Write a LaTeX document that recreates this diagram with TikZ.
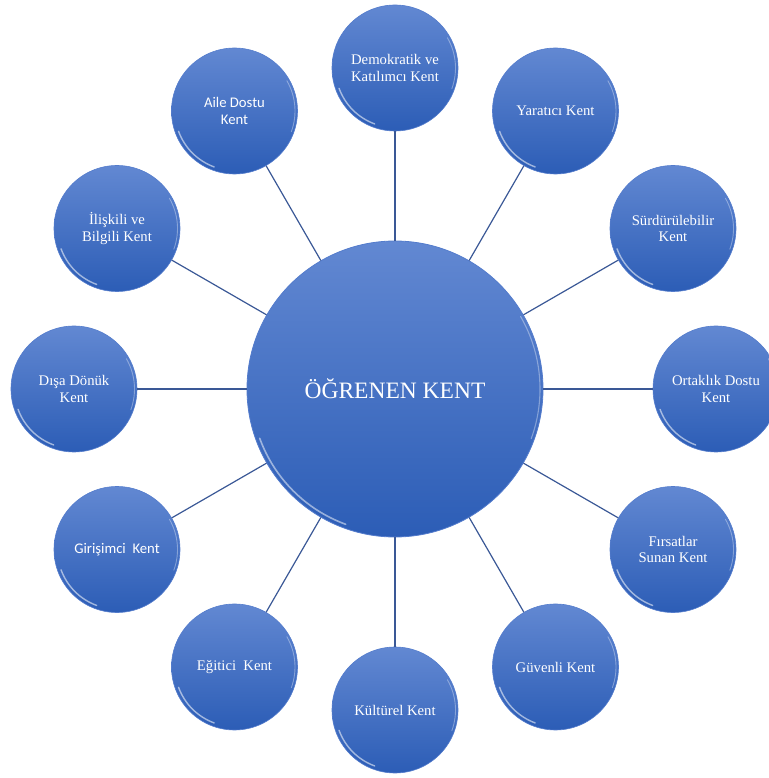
\documentclass[tikz,border=0pt]{standalone}
\usepackage{fontspec}
\setmainfont{Liberation Serif}
\newfontfamily\calibri{Carlito}
\usepackage{tikz}
\usetikzlibrary{positioning}
\definecolor{spheretop}{RGB}{98, 136, 210}
\definecolor{spherebot}{RGB}{44, 93, 182}
\definecolor{rimblue}{RGB}{84, 124, 204}
\definecolor{spokeblue}{RGB}{58, 88, 150}
\tikzstyle{leaf} = [circle, minimum size=126pt, inner sep=0pt, draw=rimblue, line width=0.6pt, top color=spheretop, bottom color=spherebot, text=white, align=center, font=\fontsize{14.7}{16.5}\selectfont, path picture={
    \draw[white, opacity=.55, line width=1.4pt, line cap=round] ([shift={(200:59.5pt)}]path picture bounding box.center) arc[start angle=200, end angle=250, radius=59.5pt];
    \draw[white, opacity=.35, line width=0.9pt, line cap=round] ([shift={(-20:60.5pt)}]path picture bounding box.center) arc[start angle=-20, end angle=30, radius=60.5pt];}]
\tikzstyle{hubcircle} = [circle, minimum size=296pt, inner sep=0pt, draw=rimblue, line width=0.8pt, top color=spheretop, bottom color=spherebot, text=white, font=\fontsize{23.5}{26}\selectfont, path picture={
    \draw[white, opacity=.5, line width=1.6pt, line cap=round] ([shift={(200:144pt)}]path picture bounding box.center) arc[start angle=200, end angle=250, radius=144pt];
    \draw[white, opacity=.35, line width=1.1pt, line cap=round] ([shift={(-20:145pt)}]path picture bounding box.center) arc[start angle=-20, end angle=30, radius=145pt];}]
\tikzstyle{spoke} = [spokeblue, line width=1.2pt]

\begin{document}
\begin{tikzpicture}[x=1pt, y=1pt]
    \useasboundingbox (-395pt,-389pt) rectangle (373pt,389pt);

    % Centre
    \node[hubcircle] (hub) at (0,0) {ÖĞRENEN KENT};

    % Surrounding circles
    \node[leaf] (demo) at (90:321pt) {Demokratik ve\\Katılımcı Kent};
    \node[leaf] (yarat) at (60:321pt) {Yaratıcı Kent};
    \node[leaf] (surdur) at (30:321pt) {Sürdürülebilir\\Kent};
    \node[leaf] (ortak) at (0:321pt) {Ortaklık Dostu\\Kent};
    \node[leaf] (firsat) at (-30:321pt) {Fırsatlar\\Sunan Kent};
    \node[leaf] (guven) at (-60:321pt) {Güvenli Kent};
    \node[leaf] (kultur) at (-90:321pt) {Kültürel Kent};
    \node[leaf] (egitici) at (-120:321pt) {Eğitici\ \ Kent};
    \node[leaf, font=\calibri\fontsize{14.7}{16.5}\selectfont] (girisim) at (-150:321pt) {Girişimci\ \ Kent};
    \node[leaf] (disa) at (180:321pt) {Dışa Dönük\\Kent};
    \node[leaf] (iliski) at (150:321pt) {İlişkili ve\\Bilgili Kent};
    \node[leaf, font=\calibri\fontsize{14.7}{16.5}\selectfont] (aile) at (120:321pt) {Aile Dostu\\Kent};

    % Spokes
    \draw[spoke] (hub) -- (demo);
    \draw[spoke] (hub) -- (yarat);
    \draw[spoke] (hub) -- (surdur);
    \draw[spoke] (hub) -- (ortak);
    \draw[spoke] (hub) -- (firsat);
    \draw[spoke] (hub) -- (guven);
    \draw[spoke] (hub) -- (kultur);
    \draw[spoke] (hub) -- (egitici);
    \draw[spoke] (hub) -- (girisim);
    \draw[spoke] (hub) -- (disa);
    \draw[spoke] (hub) -- (iliski);
    \draw[spoke] (hub) -- (aile);

\end{tikzpicture}
\end{document}
